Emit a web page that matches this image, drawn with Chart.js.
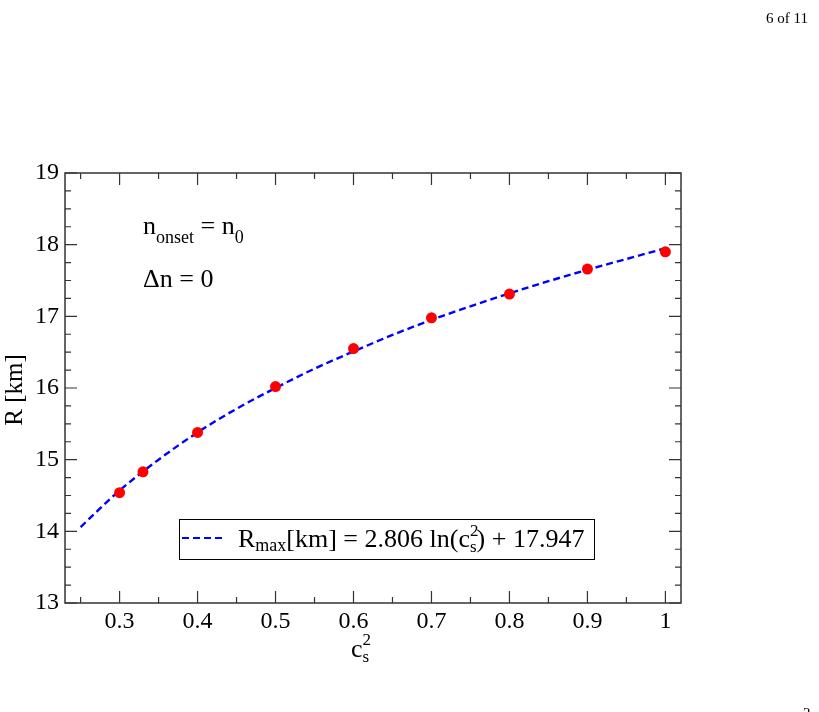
<!DOCTYPE html>
<html>
<head>
<meta charset="utf-8">
<script src="https://cdn.jsdelivr.net/npm/chart.js@4.4.0/dist/chart.umd.min.js"></script>
<style>
  html, body { margin: 0; padding: 0; background: #fff; }
  #wrap { width: 819px; height: 712px; position: relative; }
</style>
</head>
<body>
<div id="wrap"><canvas id="chart"></canvas></div>
<script>
// measured points (c_s^2, R_max)
const cs2Values = [0.3, 0.33, 0.4, 0.5, 0.6, 0.7, 0.8, 0.9, 1.0];
const rMaxValues = [14.54, 14.83, 15.38, 16.02, 16.55, 16.98, 17.31, 17.66, 17.90];

// fit curve
const fitX = [0.25, 0.3, 0.35, 0.4, 0.45, 0.5, 0.55, 0.6, 0.65, 0.7, 0.75, 0.8, 0.85, 0.9, 0.95, 1.0];
const fitY = [14.06, 14.57, 15.00, 15.38, 15.71, 16.00, 16.27, 16.51, 16.74, 16.95, 17.14, 17.32, 17.49, 17.65, 17.80, 17.95];

const xTickValues = [0.3, 0.4, 0.5, 0.6, 0.7, 0.8, 0.9, 1];
const yTickValues = [13, 14, 15, 16, 17, 18, 19];

const SERIF = '"Liberation Serif", "DejaVu Serif", serif';

// draws a run of text pieces with sub/superscripts, left to right
function richText(ctx, x, y, parts, base) {
    let cx = x;
    parts.forEach(p => {
        ctx.font = (p.size || base || 24) + 'px ' + SERIF;
        ctx.fillText(p.t, cx, y + (p.dy || 0));
        if (!p.noAdvance) cx += ctx.measureText(p.t).width;
    });
    return cx;
}

const framePlugin = {
    id: 'frame',
    afterDraw(chart) {
        const ctx = chart.ctx;
        const a = chart.chartArea;
        const xs = chart.scales.x, ys = chart.scales.y;
        ctx.save();

        // frame
        ctx.strokeStyle = '#333';
        ctx.lineWidth = 1.5;
        ctx.strokeRect(a.left, a.top, a.right - a.left, a.bottom - a.top);

        // inward ticks on all four sides
        ctx.lineWidth = 1.2;
        ctx.beginPath();
        const xMinor = xTickValues.map(v => v - 0.05);
        xTickValues.forEach(v => {
            const px = xs.getPixelForValue(v);
            ctx.moveTo(px, a.bottom); ctx.lineTo(px, a.bottom - 12);
            ctx.moveTo(px, a.top); ctx.lineTo(px, a.top + 12);
        });
        xMinor.forEach(v => {
            const px = xs.getPixelForValue(v);
            ctx.moveTo(px, a.bottom); ctx.lineTo(px, a.bottom - 6);
            ctx.moveTo(px, a.top); ctx.lineTo(px, a.top + 6);
        });
        yTickValues.forEach((v, i) => {
            const py = ys.getPixelForValue(v);
            ctx.moveTo(a.left, py); ctx.lineTo(a.left + 12, py);
            ctx.moveTo(a.right, py); ctx.lineTo(a.right - 12, py);
            if (i < yTickValues.length - 1) {
                [0.25, 0.5, 0.75].forEach(f => {
                    const pm = ys.getPixelForValue(v + f);
                    ctx.moveTo(a.left, pm); ctx.lineTo(a.left + 6, pm);
                    ctx.moveTo(a.right, pm); ctx.lineTo(a.right - 6, pm);
                });
            }
        });
        ctx.stroke();

        ctx.fillStyle = '#000';
        ctx.textBaseline = 'alphabetic';
        ctx.textAlign = 'left';

        // annotations
        richText(ctx, 143, 234, [
            { t: 'n' },
            { t: 'onset', size: 18, dy: 9 },
            { t: ' = n' },
            { t: '0', size: 18, dy: 9 }
        ], 26);
        richText(ctx, 143, 287, [{ t: '\u0394n = 0' }], 26);

        // legend box
        ctx.strokeStyle = '#000';
        ctx.lineWidth = 1;
        ctx.strokeRect(179.5, 519.5, 415, 40);
        ctx.strokeStyle = '#0000ff';
        ctx.lineWidth = 2.2;
        ctx.setLineDash([7, 4]);
        ctx.beginPath();
        ctx.moveTo(182, 538);
        ctx.lineTo(224, 538);
        ctx.stroke();
        ctx.setLineDash([]);
        richText(ctx, 238, 547, [
            { t: 'R' },
            { t: 'max', size: 18, dy: 4 },
            { t: '[km] = 2.806 ln(c' },
            { t: '2', size: 17, dy: -11, noAdvance: true },
            { t: 's', size: 17, dy: 5 },
            { t: ') + 17.947' }
        ], 26);

        // axis titles
        richText(ctx, 351, 657, [
            { t: 'c' },
            { t: '2', size: 17, dy: -12, noAdvance: true },
            { t: 's', size: 17, dy: 5 }
        ], 26);
        ctx.save();
        ctx.translate(22, 390);
        ctx.rotate(-Math.PI / 2);
        ctx.textAlign = 'center';
        ctx.font = '25px ' + SERIF;
        ctx.fillText('R [km]', 0, 0);
        ctx.restore();

        // page furniture
        ctx.font = '15px ' + SERIF;
        ctx.fillText('6 of 11', 766, 23);
        ctx.fillText('2', 803, 718);

        ctx.restore();
    }
};

new Chart(document.getElementById('chart'), {
    type: 'scatter',
    data: {
        datasets: [{
            label: 'fit',
            data: fitX.map((x, i) => ({ x: x, y: fitY[i] })),
            showLine: true,
            borderColor: '#0000ff',
            borderWidth: 2.4,
            borderDash: [7, 4],
            pointRadius: 0,
            cubicInterpolationMode: 'monotone',
            order: 2
        }, {
            label: 'data',
            data: cs2Values.map((x, i) => ({ x: x, y: rMaxValues[i] })),
            backgroundColor: '#ff0000',
            borderWidth: 0,
            pointRadius: 5.5,
            order: 1
        }]
    },
    options: {
        responsive: true,
        maintainAspectRatio: false,
        animation: false,
        layout: { padding: { top: 173, right: 138, left: 0, bottom: 0 } },
        plugins: {
            legend: { display: false },
            tooltip: { enabled: false }
        },
        scales: {
            x: {
                type: 'linear',
                min: 0.23,
                max: 1.02,
                afterBuildTicks: scale => { scale.ticks = xTickValues.map(v => ({ value: v })); },
                afterFit: scale => { scale.height = 109; },
                ticks: {
                    callback: v => String(v),
                    color: '#000',
                    padding: 4,
                    maxRotation: 0,
                    autoSkip: false,
                    font: { family: SERIF, size: 24 }
                },
                grid: { display: false, drawTicks: false, tickLength: 0 },
                border: { display: false }
            },
            y: {
                type: 'linear',
                min: 13,
                max: 19,
                afterBuildTicks: scale => { scale.ticks = yTickValues.map(v => ({ value: v })); },
                afterFit: scale => { scale.width = 65; },
                ticks: {
                    callback: v => String(v),
                    color: '#000',
                    padding: 6,
                    font: { family: SERIF, size: 24 }
                },
                grid: { display: false, drawTicks: false, tickLength: 0 },
                border: { display: false }
            }
        }
    },
    plugins: [framePlugin]
});
</script>
</body>
</html>
